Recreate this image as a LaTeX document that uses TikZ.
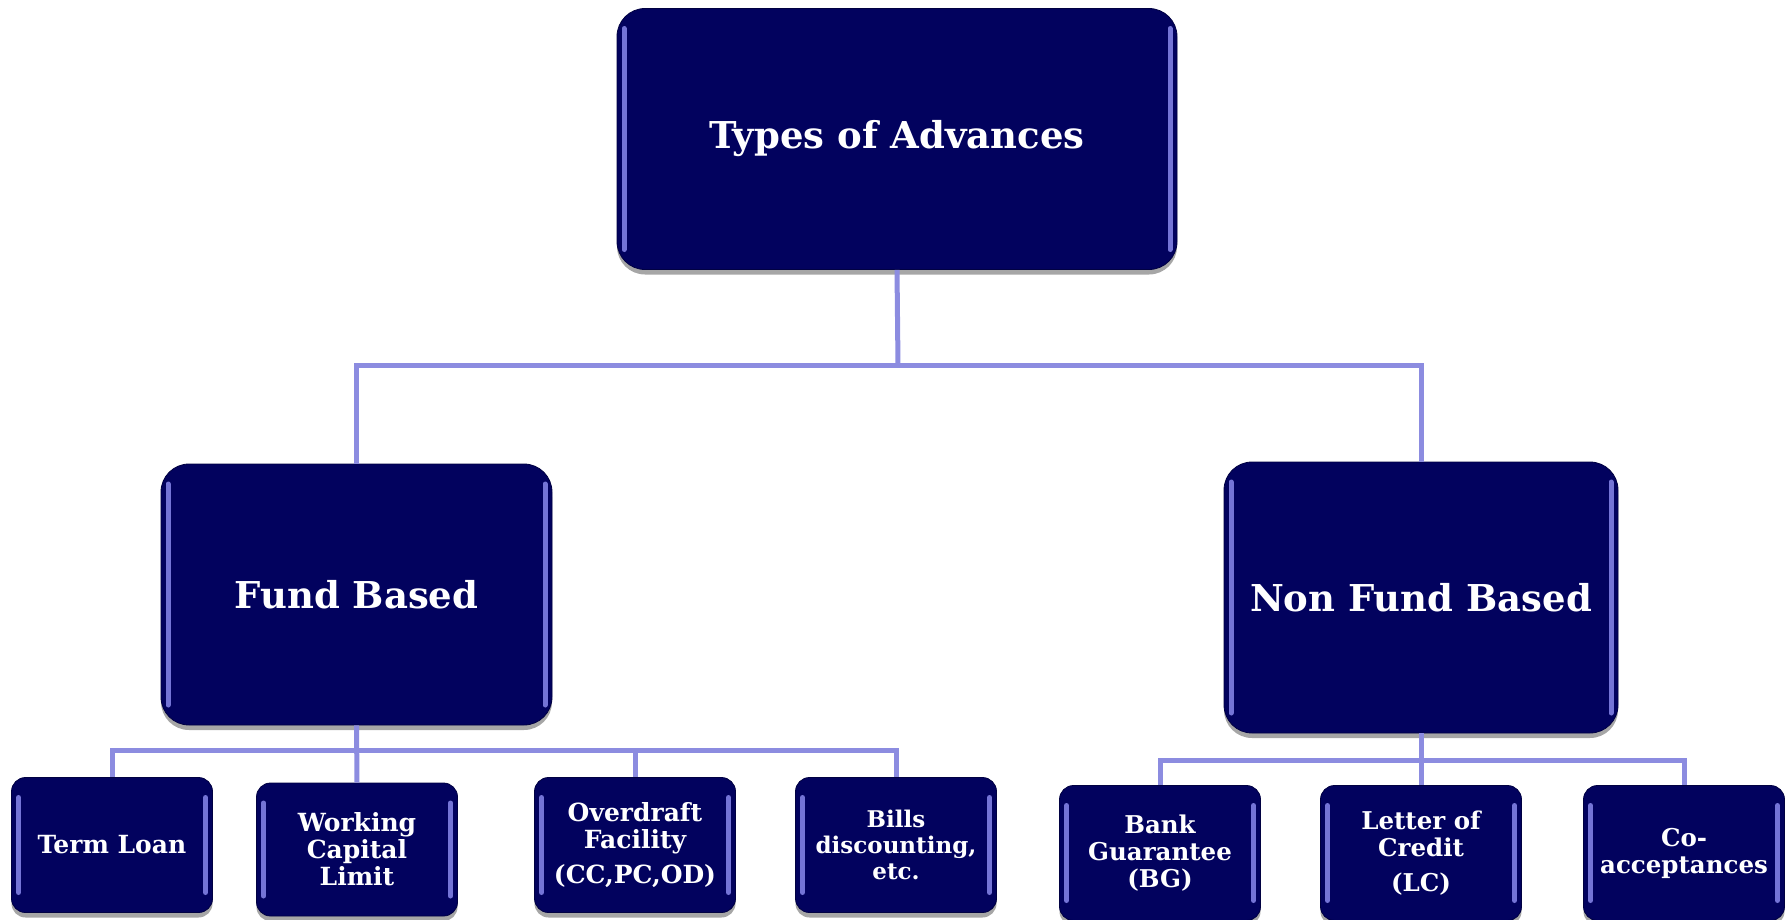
\documentclass[tikz,border=0pt]{standalone}
\usepackage{fontspec}
\setmainfont{DejaVu Serif}
\usetikzlibrary{shadows}
\definecolor{navy}{HTML}{02025E}
\definecolor{conncol}{HTML}{8C8CE0}
\definecolor{hilite}{HTML}{7474D6}
\tikzset{
  box/.style={fill=navy, draw=navy!70!black, line width=0.8pt, text=white, align=center, inner sep=0pt,
    drop shadow={shadow xshift=0pt, shadow yshift=-5pt, opacity=0.35, fill=black},
    path picture={
      \draw[hilite, line width=5pt, line cap=round]
        ([xshift=7pt,yshift=-20pt]path picture bounding box.north west) -- ([xshift=7pt,yshift=20pt]path picture bounding box.south west);
      \draw[hilite, line width=5pt, line cap=round]
        ([xshift=-7pt,yshift=-20pt]path picture bounding box.north east) -- ([xshift=-7pt,yshift=20pt]path picture bounding box.south east);
    }},
  bigbox/.style={box, rounded corners=28pt, font=\bfseries\fontsize{37}{42}\selectfont},
  smallbox/.style={box, rounded corners=14pt, minimum width=201pt, minimum height=135pt, font=\bfseries\fontsize{25}{27}\selectfont},
  rsmallbox/.style={smallbox, font=\bfseries\fontsize{24.5}{27}\selectfont},
  conn/.style={draw=conncol, line width=5pt}
}
\begin{document}
\begin{tikzpicture}[x=1pt,y=-1pt]
\useasboundingbox (0,0) rectangle (1789,919);
\coordinate (j1) at (898,365);
\coordinate (jf) at (357,750);
\coordinate (jn) at (1421,760);
\node[bigbox, minimum width=560pt, minimum height=261pt] (top) at (897,139) {Types of Advances};
\node[bigbox, minimum width=391pt, minimum height=261pt] (fund) at (356.5,594.5) {Fund Based};
\node[bigbox, minimum width=394pt, minimum height=271pt] (nonfund) at (1421,597.5) {Non Fund Based};

\node[smallbox] (tl) at (112,845) {Term Loan};
\node[smallbox, minimum height=133pt] (wc) at (357,849.5) {Working\\Capital\\Limit};
\node[smallbox] (od) at (635,845) {Overdraft\\Facility\\[8pt](CC,PC,OD)};
\node[smallbox, font=\bfseries\fontsize{23}{26}\selectfont] (bd) at (896,845) {Bills\\discounting,\\etc.};

\node[rsmallbox] (bg) at (1160,853) {Bank\\Guarantee\\(BG)};
\node[rsmallbox] (lc) at (1421,853) {Letter of\\Credit\\[8pt](LC)};
\node[rsmallbox] (ca) at (1684,853) {Co-\\acceptances};

\draw[conn] (top.south) -- (j1);
\draw[conn] (j1) -| (fund.north);
\draw[conn] (j1) -| (nonfund.north);
\draw[conn] (fund.south) -- (wc.north);
\draw[conn] (jf) -| (tl.north);
\draw[conn] (jf) -| (bd.north);
\draw[conn] (od.north) -- (od.north |- jf);
\draw[conn] (nonfund.south) -- (lc.north);
\draw[conn] (jn) -| (bg.north);
\draw[conn] (jn) -| (ca.north);
\end{tikzpicture}
\end{document}
